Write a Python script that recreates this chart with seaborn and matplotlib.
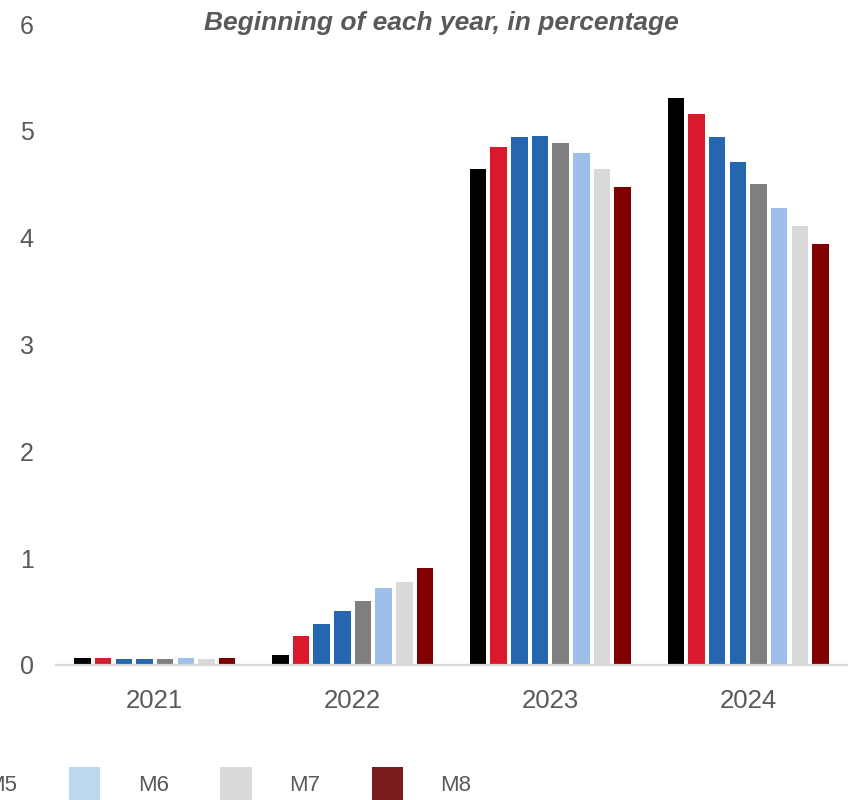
import matplotlib
matplotlib.use("Agg")
import matplotlib.pyplot as plt
from matplotlib.patches import Patch
import seaborn as sns
import pandas as pd

years = ["2021", "2022", "2023", "2024"]
series = ["M1", "M2", "M3", "M4", "M5", "M6", "M7", "M8"]

m1 = [0.07, 0.09, 4.64, 5.31]
m2 = [0.07, 0.27, 4.85, 5.16]
m3 = [0.06, 0.38, 4.94, 4.94]
m4 = [0.06, 0.51, 4.95, 4.71]
m5 = [0.06, 0.60, 4.89, 4.50]
m6 = [0.07, 0.72, 4.79, 4.28]
m7 = [0.06, 0.78, 4.64, 4.11]
m8 = [0.07, 0.91, 4.47, 3.94]

bar_colors = ["#000000", "#DA1A2C", "#2566B1", "#2566B1",
              "#7F7F7F", "#9DBFEA", "#D9D9D9", "#800000"]
legend_colors = ["#000000", "#DA1A2C", "#2566B1", "#2566B1",
                 "#7F7F7F", "#BDD7EE", "#D9D9D9", "#7A1C1C"]

values = [m1, m2, m3, m4, m5, m6, m7, m8]
rows = []
for name, vals in zip(series, values):
    for yr, v in zip(years, vals):
        rows.append({"year": yr, "series": name, "value": v})
df = pd.DataFrame(rows)

sns.set_theme(style="white")
plt.rcParams["font.family"] = ["Liberation Sans", "DejaVu Sans"]
text_grey = "#595959"

fig = plt.figure(figsize=(8.54, 8.0), dpi=100)
ax = fig.add_axes([56 / 854, 135 / 800, (847 - 56) / 854, (665 - 24) / 800])

sns.barplot(data=df, x="year", y="value", hue="series", order=years,
            hue_order=series, palette=bar_colors, width=0.836, gap=0.2,
            linewidth=0, saturation=1, legend=False, ax=ax)

ax.set_ylim(0, 6)
ax.set_xlim(-0.5, 3.5)
ax.set_yticks(range(0, 7))
ax.set_xlabel("")
ax.set_ylabel("")
ax.tick_params(axis="y", length=0, pad=16, labelsize=18, labelcolor=text_grey)
ax.tick_params(axis="x", length=0, pad=17, labelsize=18.5, labelcolor=text_grey)
for side in ["left", "right", "top"]:
    ax.spines[side].set_visible(False)
ax.spines["bottom"].set_color("#D9D9D9")
ax.spines["bottom"].set_linewidth(1.6)
ax.grid(False)

fig.text(441 / 854, 1 - 23 / 800, "Beginning of each year, in percentage",
         ha="center", va="center", fontsize=19, fontweight="bold",
         fontstyle="italic", color=text_grey)

# single-row legend, wider than the figure, so the first entries run off the left edge
handles = [Patch(facecolor=c, edgecolor="none") for c in legend_colors]
fig.legend(handles, series, ncol=8, loc="upper left",
           bbox_to_anchor=(-687 / 854, 1 - 767 / 800),
           frameon=False, fontsize=16, labelcolor=text_grey,
           handlelength=31 / 22, handleheight=42 / 22,
           handletextpad=37 / 22, columnspacing=51 / 22,
           borderpad=0, borderaxespad=0)

fig.savefig("out.png", dpi=100)
